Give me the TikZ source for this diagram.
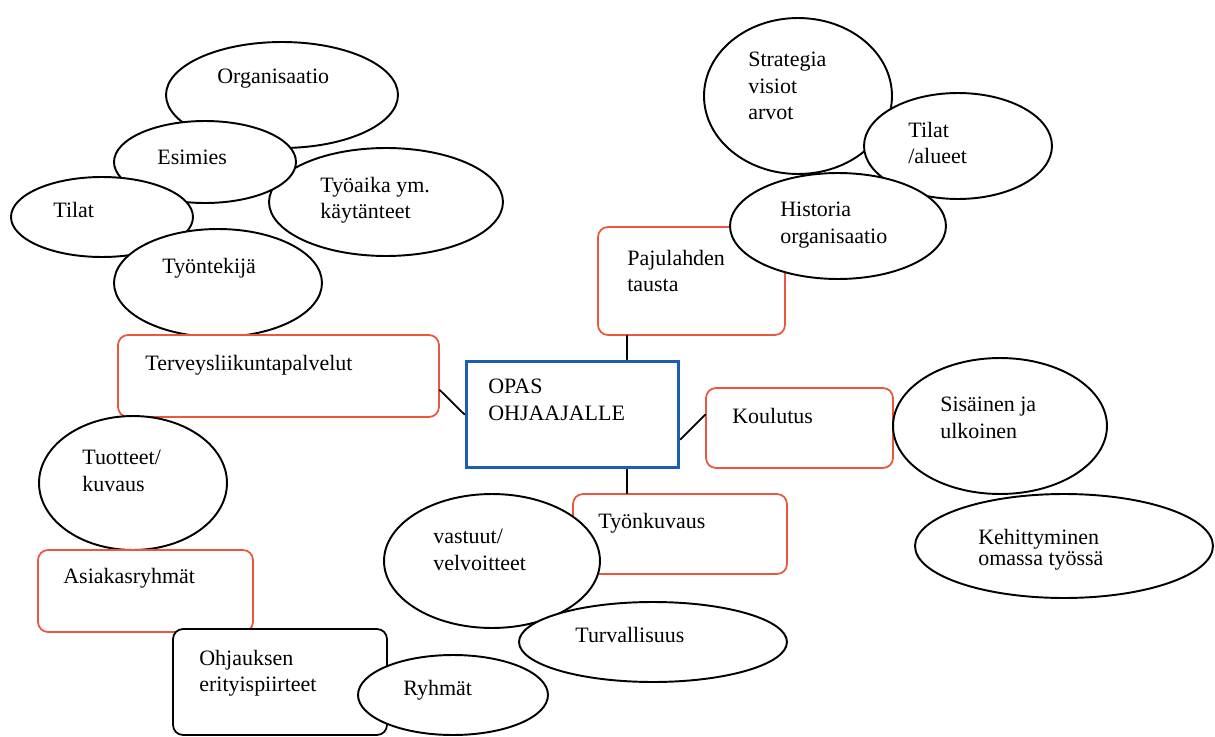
\documentclass[tikz,border=0pt]{standalone}
\usepackage{fontspec}
\setmainfont{Liberation Serif}
\usetikzlibrary{shapes.geometric}
\definecolor{boxRed}{HTML}{E9573F}
\definecolor{boxBlue}{HTML}{1A5FB4}

\begin{document}
\begin{tikzpicture}[
  x=0.02cm, y=-0.02cm,
  line cap=round,
  bubble/.style={draw, ellipse, fill=white, line width=1.1pt, inner sep=0pt},
  redbox/.style={draw=boxRed, fill=white, rounded corners=0.2cm, line width=1pt, inner sep=0pt},
  blackbox/.style={draw, fill=white, rounded corners=0.2cm, line width=1pt, inner sep=0pt},
  bluebox/.style={draw=boxBlue, fill=white, line width=1.7pt, inner sep=0pt},
  txt/.style={anchor=west, align=left, inner sep=0pt, font=\fontsize{12.5}{15}\selectfont},
  link/.style={line width=1pt}
]
  \useasboundingbox (0,0) rectangle (1215,737);
  \coordinate (spine) at (627,0);

  % Top left cluster
  \node[bubble, minimum width=4.64cm, minimum height=2.12cm] (org) at (282,95) {};
  \node[txt] (orgT) at (217,79) {Organisaatio};
  \node[bubble, minimum width=4.68cm, minimum height=2.16cm] (tyoaika) at (386,202) {};
  \node[txt] (tyoaikaT) at (320,200) {Työaika ym.\\käytänteet};
  \node[bubble, minimum width=3.64cm, minimum height=1.64cm] (esimies) at (205,162) {};
  \node[txt] (esimiesT) at (157,157) {Esimies};
  \node[bubble, minimum width=3.64cm, minimum height=1.6cm] (tilatA) at (102,217) {};
  \node[txt] (tilatAT) at (53,210) {Tilat};
  \node[bubble, minimum width=4.16cm, minimum height=2.16cm] (tyontekija) at (218,283) {};
  \node[txt] (tyontekijaT) at (162,268) {Työntekijä};

  % Top right cluster
  \node[bubble, minimum width=3.76cm, minimum height=3.12cm] (strategia) at (798,96) {};
  \node[txt] (strategiaT) at (748,86) {Strategia\\visiot\\arvot};
  \node[bubble, minimum width=3.76cm, minimum height=2.12cm] (tilatB) at (958,146) {};
  \node[txt] (tilatBT) at (908,143) {Tilat\\/alueet};
  \node[redbox, minimum width=3.74cm, minimum height=2.16cm] (tausta) at (691.5,281) {};
  \node[txt] (taustaT) at (627,271) {Pajulahden\\tausta};
  \node[bubble, minimum width=4.32cm, minimum height=2.12cm] (historia) at (838,226) {};
  \node[txt] (historiaT) at (780,225) {Historia\\organisaatio};

  % Centre
  \node[bluebox, minimum width=4.26cm, minimum height=2.14cm] (opas) at (572.5,414.5) {};
  \node[txt] (opasT) at (488,400) {OPAS\\OHJAAJALLE};

  % Left branch
  \node[redbox, minimum width=6.42cm, minimum height=1.64cm] (terveys) at (278.5,376) {};
  \node[txt] (terveysT) at (145,365) {Terveysliikuntapalvelut};
  \node[bubble, minimum width=3.76cm, minimum height=2.68cm] (tuotteet) at (133,483) {};
  \node[txt] (tuotteetT) at (82,471) {Tuotteet/\\kuvaus};
  \node[redbox, minimum width=4.3cm, minimum height=1.64cm] (asiakas) at (145.5,591) {};
  \node[txt] (asiakasT) at (63,578) {Asiakasryhmät};
  \node[blackbox, minimum width=4.28cm, minimum height=2.12cm] (ohjaus) at (280,682) {};
  \node[txt] (ohjausT) at (199,673) {Ohjauksen\\erityispiirteet};
  \node[bubble, minimum width=3.8cm, minimum height=1.6cm] (ryhmat) at (453,695) {};
  \node[txt] (ryhmatT) at (403,690) {Ryhmät};

  % Right branch
  \node[redbox, minimum width=3.74cm, minimum height=1.6cm] (koulutus) at (799.5,428) {};
  \node[txt] (koulutusT) at (732,416) {Koulutus};
  \node[bubble, minimum width=4.28cm, minimum height=2.72cm] (sisainen) at (1000,426) {};
  \node[txt] (sisainenT) at (940,418) {Sisäinen ja\\ulkoinen};
  \node[bubble, minimum width=5.96cm, minimum height=2.08cm] (kehitys) at (1064,546) {};
  \node[txt, font=\fontsize{12.5}{12}\selectfont] (kehitysT) at (978,550) {Kehittyminen\\omassa työssä};

  % Bottom branch
  \node[redbox, minimum width=4.28cm, minimum height=1.6cm] (tyonkuvaus) at (680,534) {};
  \node[txt] (tyonkuvausT) at (598,523) {Työnkuvaus};
  \node[bubble, minimum width=4.32cm, minimum height=2.68cm] (vastuut) at (492,561) {};
  \node[txt] (vastuutT) at (433,550) {vastuut/\\velvoitteet};
  \node[bubble, minimum width=5.36cm, minimum height=1.6cm] (turva) at (653,642) {};
  \node[txt] (turvaT) at (575,635) {Turvallisuus};

  % Connectors
  \draw[link] (tausta.south -| spine) -- (opas.north -| spine);
  \draw[link] (opas.south -| spine) -- (tyonkuvaus.north -| spine);
  \draw[link] (terveys.-5) -- (opas.west);
  \draw[link] (opas.-13) -- (koulutus.172);
\end{tikzpicture}
\end{document}
